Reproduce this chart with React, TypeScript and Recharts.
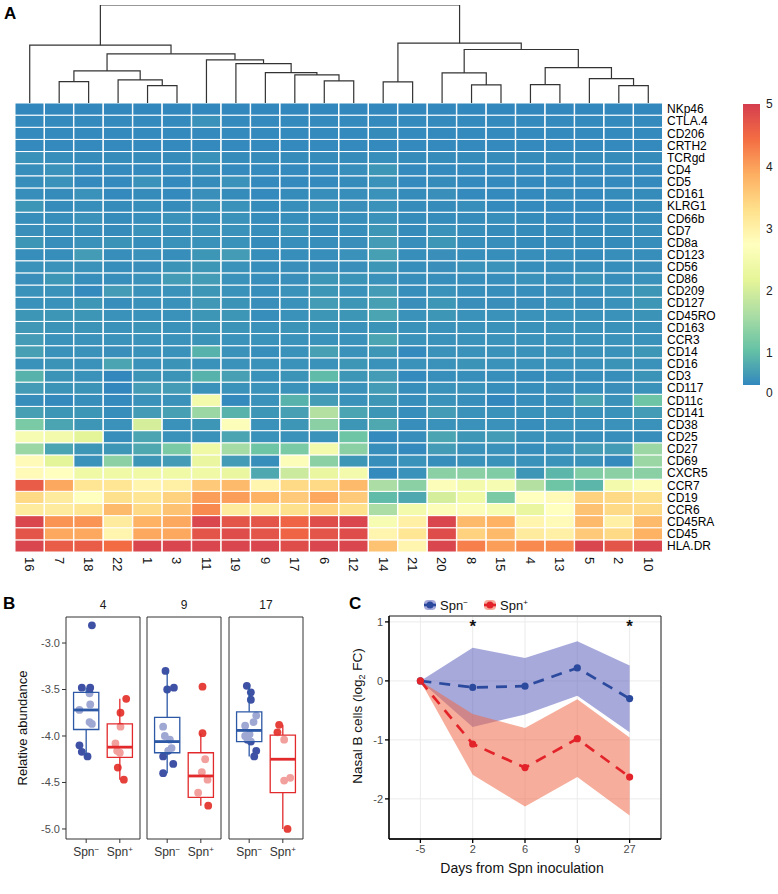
import React from "react";
import {
  ScatterChart, Scatter, ComposedChart, BarChart, Bar, Cell, Area, Line,
  XAxis, YAxis, CartesianGrid, ReferenceArea, ReferenceLine, ReferenceDot,
} from "recharts";

const FONT = '"Liberation Sans", Arial, Helvetica, sans-serif';

// ---------- A: heatmap ----------
const samples = ["16", "7", "18", "22", "1", "3", "11", "19", "9", "17", "6", "12", "14", "21", "20", "8", "15", "4", "13", "5", "2", "10"];
const markers = [
  "NKp46", "CTLA.4", "CD206", "CRTH2", "TCRgd", "CD4", "CD5", "CD161", "KLRG1", "CD66b", "CD7", "CD8a", "CD123",
  "CD56", "CD86", "CD209", "CD127", "CD45RO", "CD163", "CCR3", "CD14", "CD16", "CD3", "CD117", "CD11c", "CD141",
  "CD38", "CD25", "CD27", "CD69", "CXCR5", "CCR7", "CD19", "CCR6", "CD45RA", "CD45", "HLA.DR",
];
// one row per marker, columns in sample order
const expression = [
  [0, 0, 0, 0, 0, 0, 0, 0, 0, 0, 0, 0, 0, 0, 0, 0, 0, 0, 0, 0, 0, 0],
  [0.02, 0.02, 0.02, 0.02, 0.02, 0.02, 0.1, 0.02, 0.02, 0.02, 0.02, 0.02, 0.02, 0.02, 0.02, 0.02, 0.02, 0.02, 0.02, 0.02, 0.02, 0.02],
  [0.02, 0.02, 0.02, 0.02, 0.02, 0.02, 0.02, 0.02, 0.02, 0.02, 0.02, 0.02, 0.04, 0.02, 0.02, 0.02, 0.02, 0.02, 0.02, 0.02, 0.02, 0.02],
  [0.02, 0.02, 0.02, 0.02, 0.02, 0.02, 0.02, 0.02, 0.02, 0.02, 0.02, 0.02, 0.02, 0.02, 0.02, 0.02, 0.02, 0.02, 0.02, 0.02, 0.02, 0.02],
  [0.1, 0.06, 0.04, 0.04, 0.04, 0.04, 0.1, 0.04, 0.04, 0.04, 0.04, 0.04, 0.06, 0.04, 0.04, 0.04, 0.04, 0.04, 0.04, 0.04, 0.04, 0.04],
  [0.06, 0.1, 0.02, 0.02, 0.02, 0.02, 0.04, 0.02, 0.02, 0.02, 0.02, 0.06, 0.15, 0.02, 0.02, 0.02, 0.02, 0.02, 0.02, 0.02, 0.02, 0.02],
  [0.06, 0.1, 0.02, 0.02, 0.1, 0.02, 0.04, 0.1, 0.02, 0.02, 0.02, 0.04, 0.1, 0.02, 0.04, 0.02, 0.02, 0.02, 0.02, 0.02, 0.02, 0.02],
  [0.06, 0.04, 0.1, 0.02, 0.04, 0.02, 0.08, 0.04, 0.02, 0.04, 0.06, 0.06, 0.1, 0.04, 0.08, 0.02, 0.02, 0.02, 0.04, 0.02, 0.04, 0.04],
  [0.15, 0.04, 0.06, 0.04, 0.06, 0.04, 0.1, 0.1, 0.04, 0.06, 0.1, 0.08, 0.1, 0.04, 0.04, 0.06, 0.02, 0.02, 0.02, 0.02, 0.02, 0.04],
  [0.06, 0.06, 0.1, 0.04, 0.06, 0.1, 0.06, 0.1, 0.04, 0.06, 0.06, 0.06, 0.1, 0.04, 0.04, 0.04, 0.06, 0.04, 0.02, 0.02, 0.04, 0.04],
  [0.08, 0.06, 0.06, 0.04, 0.1, 0.06, 0.1, 0.1, 0.06, 0.1, 0.04, 0.06, 0.15, 0.04, 0.1, 0.06, 0.04, 0.04, 0.04, 0.04, 0.04, 0.06],
  [0.15, 0.06, 0.1, 0.12, 0.06, 0.1, 0.1, 0.1, 0.04, 0.06, 0.06, 0.08, 0.2, 0.06, 0.15, 0.06, 0.06, 0.04, 0.04, 0.04, 0.04, 0.06],
  [0.06, 0.06, 0.2, 0.06, 0.1, 0.06, 0.15, 0.2, 0.06, 0.06, 0.06, 0.1, 0.25, 0.06, 0.08, 0.06, 0.06, 0.06, 0.06, 0.04, 0.06, 0.06],
  [0.1, 0.1, 0.1, 0.06, 0.08, 0.12, 0.15, 0.1, 0.06, 0.08, 0.08, 0.08, 0.15, 0.06, 0.08, 0.1, 0.1, 0.06, 0.06, 0.06, 0.06, 0.08],
  [0.08, 0.15, 0.06, 0.06, 0.1, 0.2, 0.2, 0.1, 0.06, 0.08, 0.15, 0.12, 0.1, 0.06, 0.06, 0.06, 0.06, 0.1, 0.06, 0.12, 0.06, 0.1],
  [0.1, 0.1, 0.02, 0.2, 0.1, 0.1, 0.15, 0.1, 0.06, 0.1, 0.15, 0.1, 0.2, 0.06, 0.1, 0.06, 0.06, 0.06, 0.08, 0.06, 0.1, 0.15],
  [0.1, 0.1, 0.15, 0.06, 0.1, 0.1, 0.17, 0.12, 0.08, 0.1, 0.2, 0.15, 0.25, 0.08, 0.15, 0.08, 0.08, 0.08, 0.1, 0.08, 0.1, 0.15],
  [0.15, 0.15, 0.15, 0.1, 0.1, 0.1, 0.15, 0.15, 0.06, 0.1, 0.15, 0.15, 0.3, 0.1, 0.15, 0.1, 0.1, 0.1, 0.1, 0.1, 0.1, 0.12],
  [0.17, 0.12, 0.12, 0.1, 0.12, 0.1, 0.12, 0.12, 0.1, 0.12, 0.12, 0.1, 0.12, 0.1, 0.1, 0.1, 0.1, 0.1, 0.1, 0.1, 0.1, 0.1],
  [0.2, 0.1, 0.1, 0.1, 0.1, 0.1, 0.12, 0.1, 0.1, 0.1, 0.1, 0.1, 0.3, 0.1, 0.1, 0.1, 0.1, 0.1, 0.1, 0.1, 0.1, 0.1],
  [0.25, 0.1, 0.1, 0.08, 0.1, 0.1, 0.45, 0.1, 0.06, 0.1, 0.25, 0.1, 0.15, 0.02, 0.1, 0.1, 0.1, 0.1, 0.1, 0.1, 0.1, 0.15],
  [0.1, 0.12, 0.1, 0.3, 0.1, 0.12, 0.1, 0.1, 0.1, 0.1, 0.1, 0.15, 0.1, 0.1, 0.1, 0.12, 0.1, 0.1, 0.1, 0.1, 0.12, 0.1],
  [0.45, 0.12, 0.1, 0, 0.12, 0.12, 0.45, 0.25, 0.1, 0.12, 0.55, 0.15, 0.2, 0.02, 0.06, 0.06, 0.06, 0.04, 0.06, 0.06, 0.06, 0.12],
  [0.2, 0.12, 0.12, 0, 0.2, 0.2, 0.1, 0.1, 0.1, 0.1, 0.1, 0.1, 0.2, 0.06, 0.1, 0.1, 0.06, 0.06, 0.08, 0.06, 0.08, 0.1],
  [0.06, 0.02, 0.06, 0.02, 0.1, 0.1, 2.2, 0.02, 0.1, 0.45, 0.2, 0.1, 0.15, 0.06, 0.1, 0.06, 0, 0.06, 0.06, 0.3, 0.1, 0.7],
  [0.25, 0.15, 0.15, 0.06, 0.2, 0.25, 1.1, 0.45, 0.15, 0.25, 1.35, 0.3, 0.15, 0.06, 0.2, 0.1, 0.1, 0.1, 0.1, 0.1, 0.1, 0.2],
  [0.8, 0.3, 0.15, 0.1, 1.7, 0.1, 0.15, 2.4, 0.1, 0.15, 0.95, 0.15, 0.35, 0.06, 0.1, 0.1, 0.1, 0.06, 0.1, 0.1, 0.1, 0.1],
  [2.3, 2.2, 1.85, 0.06, 0.3, 0.1, 0.1, 0.3, 0.1, 0.1, 0.1, 0.7, 0.02, 0.06, 0.3, 0.15, 0.2, 0.1, 0.1, 0.06, 0.06, 0.06],
  [1.1, 0.3, 0.15, 0.15, 0.35, 0.8, 2.1, 1.2, 0.7, 0.8, 2.2, 0.95, 0.06, 0.02, 0.2, 0.1, 0.1, 0.06, 0.1, 0.2, 0.2, 1.1],
  [2.6, 1.85, 0.1, 0.95, 0.15, 0.2, 2.0, 0.2, 0.06, 2.4, 0.95, 0.15, 0.06, 0.1, 0.06, 0.1, 0.1, 0.1, 0.1, 0.1, 0.02, 1.1],
  [2.6, 2.5, 2.1, 2.1, 2.1, 2.1, 2.1, 2.0, 0.35, 1.6, 2.0, 2.2, 0.02, 0.1, 0.95, 0.95, 0.85, 0.15, 0.5, 0.85, 0.95, 0.95],
  [4.6, 3.8, 3.0, 3.0, 2.7, 2.8, 3.4, 3.6, 2.7, 3.2, 3.2, 3.6, 1.25, 0.95, 2.4, 2.2, 2.3, 1.35, 0.7, 0.5, 2.2, 2.4],
  [3.2, 2.9, 2.5, 3.1, 3.0, 3.3, 3.9, 3.9, 3.7, 3.4, 3.8, 3.4, 0.55, 0.35, 1.7, 2.1, 0.8, 2.5, 2.6, 3.3, 3.2, 3.1],
  [2.9, 2.9, 3.0, 3.6, 3.2, 3.5, 4.1, 2.9, 2.9, 3.1, 3.3, 3.1, 1.25, 2.2, 2.4, 2.4, 2.3, 2.0, 2.5, 3.5, 3.2, 3.2],
  [4.9, 4.0, 4.0, 2.9, 3.7, 3.8, 4.9, 4.7, 4.7, 4.5, 4.8, 4.9, 2.3, 2.8, 4.9, 3.6, 3.7, 2.7, 2.6, 3.6, 2.8, 3.6],
  [4.7, 3.8, 3.8, 2.7, 3.8, 3.8, 4.7, 4.8, 4.7, 4.5, 4.7, 4.8, 2.7, 3.0, 4.8, 3.3, 3.6, 2.9, 2.8, 3.4, 3.2, 3.7],
  [4.9, 4.6, 4.6, 4.4, 4.9, 4.9, 4.9, 4.9, 4.9, 4.8, 4.9, 4.9, 3.5, 2.7, 4.9, 4.2, 3.9, 4.1, 4.1, 4.9, 4.7, 4.9],
];

// hclust-style merges: negative = leaf position (1-based), positive = earlier merge
const merges: [number, number, number][] = [
  [-2, -3, 64], [-5, -6, 52], [-4, 2, 69], [1, 3, 96], [-11, -12, 66], [-10, 5, 84], [-9, 6, 91],
  [-8, 7, 118], [-7, 8, 129], [4, 9, 147], [-1, 10, 173], [-13, -14, 63], [-16, -17, 54], [-15, 13, 90],
  [-18, -19, 55], [-21, -22, 52], [-20, 16, 73], [15, 17, 106], [14, 18, 160], [12, 19, 179], [11, 20, 293],
];
const treeTop = 293;

const spectral = ["#3288BD", "#66C2A5", "#ABDDA4", "#E6F598", "#FFFFBF", "#FEE08B", "#FDAE61", "#F46D43", "#D53E4F"];
const heatMax = 5;
const legendTicks = [1, 2, 3, 4, 5];
const legendFloor = 0.36; // pheatmap prints its "0" just under the bar
const legendSpan: [number, number] = [0.49, 5];

// ---------- B: box plots ----------
const clusters = ["4", "9", "17"];
const abundanceTicks = [-5, -4.5, -4, -3.5, -3];
const abundanceDomain: [number, number] = [-5.108, -2.72];
// [jitter, value]
const c4Neg = [[0.17, -2.81], [-0.13, -3.48], [0.12, -3.48], [0.1, -3.54], [0.12, -3.66], [-0.2, -3.72], [0.1, -3.85], [0.17, -3.87], [-0.2, -4.1], [-0.13, -4.17], [0.04, -4.22]];
const c4Pos = [[0.19, -3.6], [0.02, -3.75], [0.02, -3.9], [-0.13, -4.08], [-0.08, -4.16], [0.0, -4.18], [-0.06, -4.34], [0.12, -4.47]];
const c9Neg = [[-0.05, -3.3], [0.2, -3.48], [0.0, -3.5], [-0.12, -3.9], [-0.07, -4.0], [0.08, -4.04], [0.13, -4.13], [0.03, -4.16], [-0.12, -4.22], [0.18, -4.3], [-0.12, -4.4]];
const c9Pos = [[0.05, -3.47], [0.05, -3.97], [0.13, -4.25], [0.03, -4.39], [0.2, -4.47], [-0.08, -4.61], [0.22, -4.75]];
const c17Neg = [[-0.07, -3.46], [0.05, -3.53], [0.05, -3.61], [0.21, -3.78], [0.13, -3.85], [-0.12, -3.89], [0.01, -3.98], [-0.12, -4.0], [-0.05, -4.04], [0.05, -4.06], [0.21, -4.16], [0.15, -4.22]];
const c17Pos = [[-0.11, -3.88], [-0.16, -3.96], [0.04, -4.04], [0.22, -4.45], [0.04, -4.48], [0.14, -5.0]];
// [lower whisker, q1, median, q3, upper whisker]
const c4Box = [[-4.22, -3.93, -3.72, -3.53, -3.48], [-4.47, -4.23, -4.12, -3.87, -3.6]];
const c9Box = [[-4.4, -4.18, -4.06, -3.8, -3.3], [-4.75, -4.66, -4.43, -4.18, -3.97]];
const c17Box = [[-4.22, -4.06, -3.94, -3.74, -3.46], [-5.0, -4.61, -4.25, -3.99, -3.88]];

// ---------- C: time course ----------
const days = ["-5", "2", "6", "9", "27"];
const negMean = [0, -0.11, -0.09, 0.22, -0.3];
const negLo = [0, -0.78, -0.57, -0.25, -0.87];
const negHi = [0, 0.56, 0.39, 0.67, 0.26];
const posMean = [0, -1.07, -1.47, -0.98, -1.63];
const posLo = [0, -1.59, -2.13, -1.63, -2.28];
const posHi = [0, -0.56, -0.8, -0.31, -0.96];
const signifDays = ["2", "27"];
const starLevel = 0.98;

const BLUE = { point: "#3F51A5", box: "#2C58A5", line: "#2B4A9E", ribbon: "#5C62BC" };
const RED = { point: "#E5413A", box: "#E22A2C", line: "#E3232A", ribbon: "#EE6A48" };
const groupColors = [BLUE, RED];

function hexToRgb(h: string) {
  const n = parseInt(h.slice(1), 16);
  return [(n >> 16) & 255, (n >> 8) & 255, n & 255];
}

function heatColor(v: number) {
  const t = Math.max(0, Math.min(1, v / heatMax)) * (spectral.length - 1);
  const i = Math.min(Math.floor(t), spectral.length - 2);
  const f = t - i;
  const a = hexToRgb(spectral[i]);
  const b = hexToRgb(spectral[i + 1]);
  return `rgb(${a.map((x, k) => Math.round(x + (b[k] - x) * f)).join(",")})`;
}

function dendroSegments() {
  const nodes: { x: number; h: number }[] = [];
  const get = (id: number) => (id < 0 ? { x: -id - 1, h: 0 } : nodes[id - 1]);
  return merges.map(([l, r, h]) => {
    const a = get(l);
    const b = get(r);
    nodes.push({ x: (a.x + b.x) / 2, h });
    return [{ x: a.x, y: a.h }, { x: a.x, y: h }, { x: b.x, y: h }, { x: b.x, y: b.h }];
  });
}

const heatRows = samples.map((s) => {
  const row: Record<string, any> = { sample: s };
  markers.forEach((_, r) => { row[`m${r}`] = 1; });
  return row;
});

const trendRows = days.map((d, i) => ({
  pos: i + 1,
  negBand: [negLo[i], negHi[i]],
  posBand: [posLo[i], posHi[i]],
  negMean: negMean[i],
  posMean: posMean[i],
}));

const Empty = () => <g />;

const SampleTick = (p: any) => (
  <text x={p.x} y={p.y} transform={`rotate(90 ${p.x} ${p.y})`} dy="0.36em" fontSize={13} fill="#111" fontFamily={FONT}>
    {p.payload.value}
  </text>
);

const GroupTick = (p: any) => (
  <text x={p.x} y={p.y} dy={9} textAnchor="middle" fontSize={12} fill="#333" fontFamily={FONT}>
    Spn<tspan dy={-4} fontSize={8}>{p.payload.value === 1 ? "−" : "+"}</tspan>
  </text>
);

const dotShape = (color: string) => (p: any) => <circle cx={p.cx} cy={p.cy} r={3.9} fill={color} />;

const Star = (p: any) => (
  <text x={p.cx} y={p.cy} dy={9} textAnchor="middle" fontSize={17} fontWeight="bold" fill="#111" fontFamily={FONT}>*</text>
);

function BoxFacet({ name, points, boxes, showAxis, width }: any) {
  return (
    <ComposedChart width={width} height={268} margin={{ top: 22, right: 1, bottom: 0, left: showAxis ? 0 : 1 }}>
      <XAxis type="number" dataKey="x" domain={[0.4, 2.6]} ticks={[1, 2]} allowDataOverflow axisLine={false}
        tickSize={4} tickMargin={4} stroke="#333" height={24} tick={<GroupTick />} />
      <YAxis type="number" dataKey="y" domain={abundanceDomain} ticks={abundanceTicks} allowDataOverflow hide={!showAxis}
        width={66} axisLine={false} tickSize={4} stroke="#333" tickFormatter={(v: number) => v.toFixed(1)}
        tick={{ fill: "#4d4d4d", fontSize: 11, fontFamily: FONT }} />
      {points.map((pts: number[][], g: number) => (
        <Scatter key={`p${g}`} data={pts.map(([dx, v]) => ({ x: g + 1 + dx, y: v }))}
          shape={dotShape(groupColors[g].point)} isAnimationActive={false} />
      ))}
      {boxes.map(([lo, q1, med, q3, hi]: number[], g: number) => {
        const cx = g + 1;
        const col = groupColors[g].box;
        return (
          <React.Fragment key={`b${g}`}>
            <ReferenceLine segment={[{ x: cx, y: q3 }, { x: cx, y: hi }]} stroke={col} strokeWidth={1.3} zIndex={650} />
            <ReferenceLine segment={[{ x: cx, y: lo }, { x: cx, y: q1 }]} stroke={col} strokeWidth={1.3} zIndex={650} />
            <ReferenceArea x1={cx - 0.375} x2={cx + 0.375} y1={q1} y2={q3} fill="#fff" fillOpacity={0.5}
              stroke={col} strokeWidth={1.3} zIndex={655} />
            <ReferenceLine segment={[{ x: cx - 0.375, y: med }, { x: cx + 0.375, y: med }]} stroke={col} strokeWidth={2.8} zIndex={660} />
          </React.Fragment>
        );
      })}
      <ReferenceArea x1={0.4} x2={2.6} y1={abundanceDomain[0]} y2={abundanceDomain[1]} fill="none" stroke="#333"
        strokeWidth={1} zIndex={670}
        label={{ value: name, position: "top", offset: 8, fill: "#1a1a1a", fontSize: 12, fontFamily: FONT }} />
    </ComposedChart>
  );
}

export default function App() {
  const segments = dendroSegments();
  const rowTicks = markers.map((_, k) => k + 0.5);
  const facetPoints = [[c4Neg, c4Pos], [c9Neg, c9Pos], [c17Neg, c17Pos]];
  const facetBoxes = [c4Box, c9Box, c17Box];
  const facetLefts = [0, 146, 228];

  return (
    <div style={{ position: "absolute", left: 0, top: 0, width: 778, height: 894, background: "#fff", fontFamily: FONT }}>
      {/* dendrogram */}
      <div style={{ position: "absolute", left: 15, top: 0 }}>
        <ScatterChart width={648} height={104} margin={{ top: 5, right: 0, bottom: 1, left: 0 }}>
          <XAxis type="number" dataKey="x" domain={[-0.5, samples.length - 0.5]} hide allowDataOverflow />
          <YAxis type="number" dataKey="y" domain={[0, treeTop]} hide allowDataOverflow />
          {segments.map((pts, i) => (
            <Scatter key={i} data={pts} shape={Empty} line={{ stroke: "#333", strokeWidth: 1.2 }} lineType="joint"
              isAnimationActive={false} />
          ))}
        </ScatterChart>
      </div>

      {/* heatmap */}
      <div style={{ position: "absolute", left: 15, top: 103 }}>
        <BarChart width={723} height={479} data={heatRows} barCategoryGap={0} barGap={0}
          margin={{ top: 0, right: 0, bottom: 0, left: 0 }}>
          <XAxis dataKey="sample" type="category" interval={0} tickLine={false} axisLine={false} tickSize={0}
            tickMargin={5} height={30} tick={<SampleTick />} />
          <YAxis type="number" orientation="right" domain={[0, markers.length]} ticks={rowTicks} interval={0}
            width={75} axisLine={false} tickLine={false} tickSize={0} tickMargin={4}
            tickFormatter={(v: number) => markers[markers.length - 1 - Math.floor(v)]}
            tick={{ fill: "#000", fontSize: 12, fontFamily: FONT }} />
          {markers.map((_, k) => {
            const r = markers.length - 1 - k;
            return (
              <Bar key={r} dataKey={`m${r}`} stackId="heat" stroke="#fff" strokeWidth={1} isAnimationActive={false}>
                {samples.map((s, c) => <Cell key={s} fill={heatColor(expression[r][c])} />)}
              </Bar>
            );
          })}
        </BarChart>
      </div>

      {/* colour key */}
      <div style={{ position: "absolute", left: 740, top: 96 }}>
        <BarChart width={38} height={305} data={[{ k: "key", span: legendSpan }]} barSize={17}
          margin={{ top: 8, right: 0, bottom: 8, left: 0 }}>
          <defs>
            <linearGradient id="spectralRamp" x1="0" y1="1" x2="0" y2="0">
              {spectral.map((c, i) => <stop key={c} offset={i / (spectral.length - 1)} stopColor={c} />)}
            </linearGradient>
          </defs>
          <XAxis dataKey="k" hide />
          <YAxis type="number" orientation="right" domain={[legendFloor, heatMax]} allowDataOverflow
            ticks={[legendFloor, ...legendTicks]} interval={0} width={16} axisLine={false} tickLine={false}
            tickSize={0} tickMargin={4} tickFormatter={(v: number) => String(Math.round(v))}
            tick={{ fill: "#222", fontSize: 12, fontFamily: FONT }} />
          <Bar dataKey="span" fill="url(#spectralRamp)" isAnimationActive={false} />
        </BarChart>
      </div>

      {/* B facets */}
      {clusters.map((name, f) => (
        <div key={name} style={{ position: "absolute", left: facetLefts[f], top: 595 }}>
          <BoxFacet name={name} points={facetPoints[f]} boxes={facetBoxes[f]} showAxis={f === 0} width={f === 0 ? 141 : 76} />
        </div>
      ))}

      {/* C */}
      <div style={{ position: "absolute", left: 340, top: 610 }}>
        <ComposedChart width={323} height={251} data={trendRows} margin={{ top: 6, right: 2, bottom: 0, left: 0 }}>
          <CartesianGrid stroke="#EBEBEB" />
          <XAxis type="number" dataKey="pos" domain={[0.4, 5.6]} ticks={days.map((_, i) => i + 1)} allowDataOverflow
            tickFormatter={(v: number) => days[v - 1]} height={22} tickSize={4} stroke="#000" strokeWidth={1.3}
            tick={{ fill: "#4d4d4d", fontSize: 11, fontFamily: FONT }} />
          <YAxis type="number" domain={[-2.68, 1.1]} ticks={[-2, -1, 0, 1]} allowDataOverflow width={49} tickSize={4}
            stroke="#000" strokeWidth={1.3} tick={{ fill: "#4d4d4d", fontSize: 11, fontFamily: FONT }} />
          <Area type="linear" dataKey="negBand" fill={BLUE.ribbon} fillOpacity={0.55} stroke="none" activeDot={false}
            isAnimationActive={false} />
          <Area type="linear" dataKey="posBand" fill={RED.ribbon} fillOpacity={0.55} stroke="none" activeDot={false}
            isAnimationActive={false} />
          <Line type="linear" dataKey="negMean" stroke={BLUE.line} strokeWidth={2.7} strokeDasharray="11 8"
            dot={{ r: 3.6, fill: BLUE.line, stroke: "none" }} activeDot={false} isAnimationActive={false} />
          <Line type="linear" dataKey="posMean" stroke={RED.line} strokeWidth={2.7} strokeDasharray="11 8"
            dot={{ r: 3.6, fill: RED.line, stroke: "none" }} activeDot={false} isAnimationActive={false} />
          {signifDays.map((d) => (
            <ReferenceDot key={d} x={days.indexOf(d) + 1} y={starLevel} shape={Star} />
          ))}
          <ReferenceArea x1={0.4} x2={5.6} y1={-2.68} y2={1.1} fill="none" stroke="#222" strokeWidth={1} />
        </ComposedChart>
      </div>

      {/* titles, panel letters, legend */}
      <svg width={778} height={894} style={{ position: "absolute", left: 0, top: 0, pointerEvents: "none" }}
        fontFamily={FONT}>
        <text x={4} y={19} fontSize={17} fontWeight="bold">A</text>
        <text x={3} y={609} fontSize={17} fontWeight="bold">B</text>
        <text x={349} y={609} fontSize={17} fontWeight="bold">C</text>
        <text x={27} y={728} transform="rotate(-90 27 728)" textAnchor="middle" fontSize={13} fill="#111">
          Relative abundance
        </text>
        <text x={362} y={716} transform="rotate(-90 362 716)" textAnchor="middle" fontSize={13.5} fill="#111">
          Nasal B cells (log<tspan dy={3} fontSize={9}>2</tspan><tspan dy={-3}> FC)</tspan>
        </text>
        <text x={522} y={873} textAnchor="middle" fontSize={14} fill="#111">Days from Spn inoculation</text>
        {[{ c: BLUE, x: 424, sign: "−" }, { c: RED, x: 484, sign: "+" }].map((k) => (
          <g key={k.sign}>
            <rect x={k.x} y={600} width={12} height={10} rx={4} fill={k.c.ribbon} fillOpacity={0.55} />
            <line x1={k.x} x2={k.x + 12} y1={605} y2={605} stroke={k.c.line} strokeWidth={2.6} />
            <circle cx={k.x + 6} cy={605} r={3.5} fill={k.c.line} />
            <text x={k.x + 16} y={610} fontSize={13} fill="#111">
              Spn<tspan dy={-5} fontSize={8}>{k.sign}</tspan>
            </text>
          </g>
        ))}
      </svg>
    </div>
  );
}
